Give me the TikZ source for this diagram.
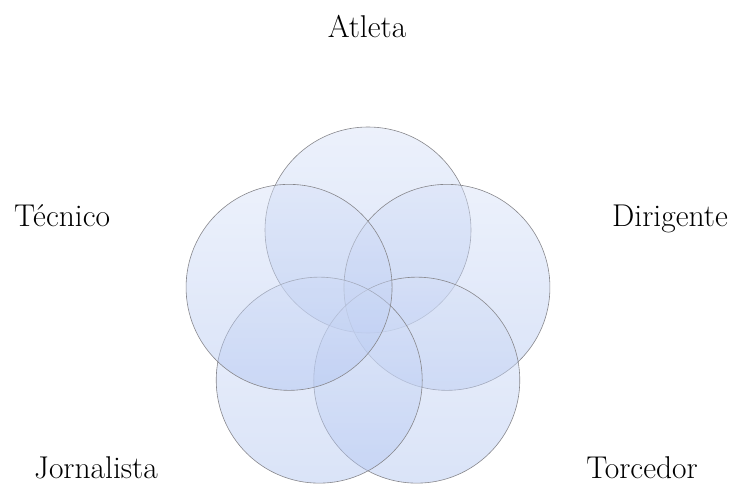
\documentclass[tikz,border=0pt]{standalone}
\usepackage{tikz}
\usetikzlibrary{calc}
\definecolor{circtop}{RGB}{215,225,247}
\definecolor{circbot}{RGB}{176,196,240}
\definecolor{circline}{RGB}{135,135,140}
\begin{document}
\begin{tikzpicture}[x=1pt,y=1pt,
  venn/.style={circle, minimum size=206pt, inner sep=0pt, outer sep=0pt,
    top color=circtop, bottom color=circbot, fill opacity=0.47,
    draw=circline, draw opacity=1, line width=0.6pt},
  lbl/.style={anchor=base, font=\fontsize{31.5}{36}\selectfont, inner sep=0pt}]
\useasboundingbox (0,0) rectangle (735,484);
\coordinate (ctr) at (368,171);
\node[venn] (c1) at ($(ctr)+(90:83)$) {};
\node[venn] (c2) at ($(ctr)+(18:83)$) {};
\node[venn] (c3) at ($(ctr)+(306:83)$) {};
\node[venn] (c4) at ($(ctr)+(234:83)$) {};
\node[venn] (c5) at ($(ctr)+(162:83)$) {};
\node[lbl] (atleta) at (367,446) {Atleta};
\node[lbl] (tecnico) at (62,257) {Técnico};
\node[lbl] (dirigente) at (670,257) {Dirigente};
\node[lbl] (jornalista) at (96,6) {Jornalista};
\node[lbl] (torcedor) at (642,6) {Torcedor};
\end{tikzpicture}
\end{document}
